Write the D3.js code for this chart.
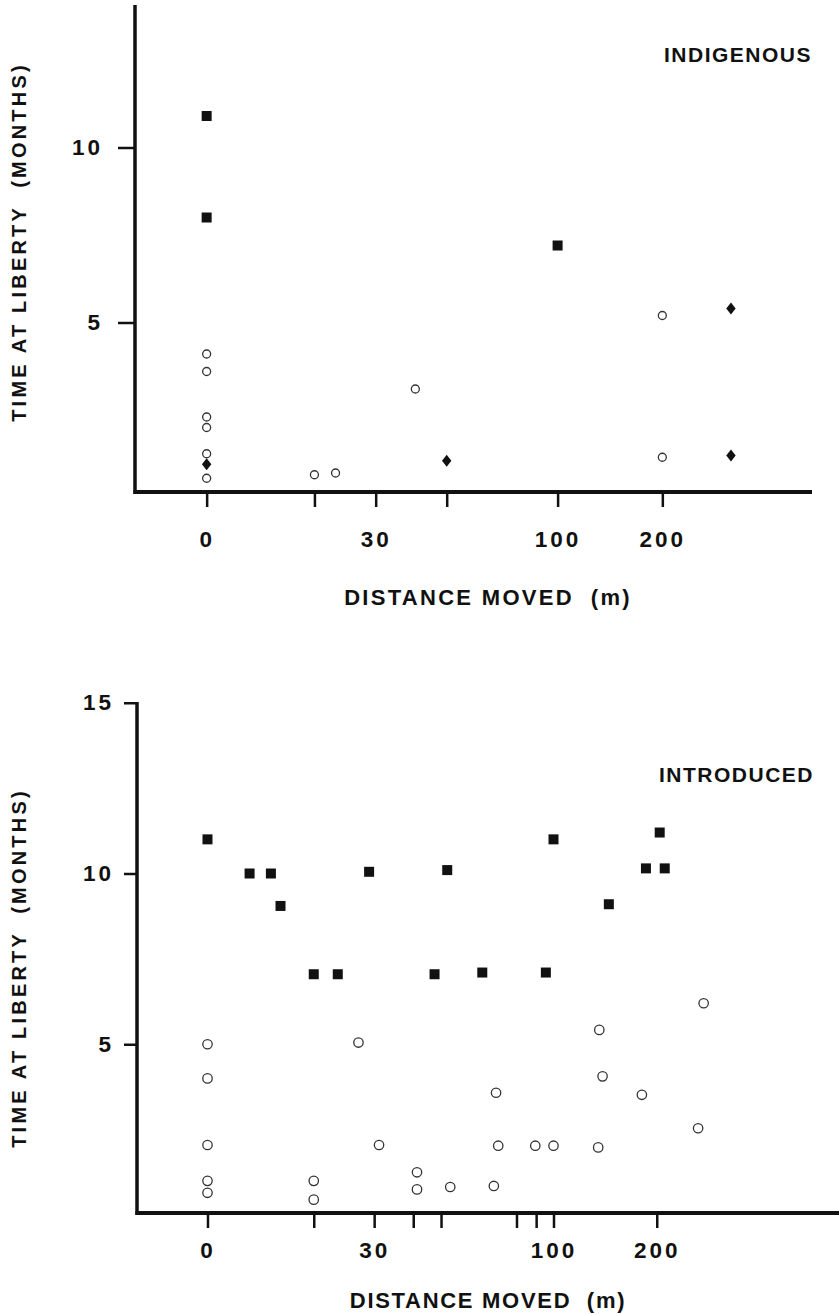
<!DOCTYPE html>
<html>
<head>
<meta charset="utf-8">
<script src="https://cdn.jsdelivr.net/npm/d3@7"></script>
<style>
  body { margin: 0; background: #fff; }
  svg { display: block; background: #fff; font-family: "Liberation Sans", Arial, Helvetica, sans-serif; font-weight: bold; }
</style>
</head>
<body>
<svg width="839" height="1314"></svg>
<script>
// a distance of 0 can't sit on a log axis, it is drawn where ~10 m would be
const ZERO_AT = 9.8;

// INDIGENOUS panel
const indSquareDist = [0, 0, 100];
const indSquareMonths = [10.9, 8.0, 7.2];
const indCircleDist = [0, 0, 0, 0, 0, 0, 20, 23, 39, 200, 200];
const indCircleMonths = [4.1, 3.6, 2.3, 2.0, 1.25, 0.55, 0.65, 0.7, 3.1, 5.2, 1.15];
const indDiamondDist = [0, 48, 315, 315];
const indDiamondMonths = [0.95, 1.05, 5.4, 1.2];
const indXTicks = [0, 20, 30, 48, 100, 200];
const indYTicks = [5, 10];

// INTRODUCED panel
const intSquareDist = [0, 13, 15, 16, 20, 23.5, 29, 45, 49, 62, 95, 100, 145, 186, 204, 211];
const intSquareMonths = [11, 10, 10, 9.05, 7.05, 7.05, 10.05, 7.05, 10.1, 7.1, 7.1, 11, 9.1, 10.15, 11.2, 10.15];
const intCircleDist = [0, 0, 0, 0, 0, 20, 20, 27, 31, 40, 40, 50, 67, 68, 69, 88.5, 100, 135, 136, 139, 181, 264, 274];
const intCircleMonths = [5.0, 4.0, 2.05, 1.0, 0.65, 1.0, 0.45, 5.05, 2.05, 1.25, 0.75, 0.82, 0.85, 3.58, 2.03, 2.03, 2.03, 1.98, 5.42, 4.06, 3.52, 2.54, 6.2];
const intXTicks = [0, 20, 30, 39, 47, 78, 89, 100, 200];
const intYTicks = [5, 10, 15];

const xLabels = [0, 30, 100, 200];

const svg = d3.select("svg");
const pos = d => (d === 0 ? ZERO_AT : d);
const diamond = "M0,-6L4.7,0L0,6L-4.7,0Z";

function drawPanel(p) {
  const x = d3.scaleLog().domain([10, 100]).range([p.x10, p.x100]);
  const y = d3.scaleLinear().domain([0, 10]).range([p.y0, p.y10]);
  const g = svg.append("g");

  // axes
  const xAxisG = g.append("g").attr("transform", `translate(0,${p.axisY})`);
  xAxisG.call(
    d3.axisBottom(x)
      .tickValues(p.xTicks.map(pos))
      .tickSize(15)
      .tickFormat((v, i) => (xLabels.includes(p.xTicks[i]) ? p.xTicks[i] : ""))
  );
  xAxisG.select(".domain").remove();
  xAxisG.selectAll(".tick line").attr("stroke", "#111").attr("stroke-width", 2.5);
  xAxisG.selectAll(".tick text")
    .attr("y", p.xLabelY)
    .attr("dy", 0)
    .attr("fill", "#111")
    .style("font-size", "22.5px")
    .style("letter-spacing", "3px");

  const yAxisG = g.append("g").attr("transform", `translate(${p.axisX},0)`);
  yAxisG.call(
    d3.axisLeft(y)
      .tickValues(p.yTicks)
      .tickSize(p.yTickLen)
      .tickPadding(p.yPad)
  );
  yAxisG.select(".domain").remove();
  yAxisG.selectAll(".tick line").attr("stroke", "#111").attr("stroke-width", 2.5);
  yAxisG.selectAll(".tick text")
    .attr("fill", "#111")
    .style("font-size", "22.5px")
    .style("letter-spacing", "3px");

  g.append("line")
    .attr("x1", p.axisX).attr("x2", p.axisX)
    .attr("y1", p.axisTop).attr("y2", p.axisY + 2)
    .attr("stroke", "#111").attr("stroke-width", 3.5);
  g.append("line")
    .attr("x1", p.axisX - 1.5).attr("x2", p.axisRight)
    .attr("y1", p.axisY).attr("y2", p.axisY)
    .attr("stroke", "#111").attr("stroke-width", 4);

  // titles
  g.append("text")
    .attr("x", p.titleX).attr("y", p.titleY)
    .attr("text-anchor", "end")
    .attr("fill", "#111")
    .style("font-size", "21px")
    .style("letter-spacing", "1.5px")
    .text(p.title);

  g.append("text")
    .attr("x", 488).attr("y", p.xTitleY)
    .attr("text-anchor", "middle")
    .attr("fill", "#111")
    .style("font-size", "22px")
    .style("letter-spacing", p.xTitleSpacing)
    .style("white-space", "pre")
    .text("DISTANCE MOVED  (m)");

  g.append("text")
    .attr("transform", `translate(19,${p.yTitleY}) rotate(-90)`)
    .attr("dy", "0.36em")
    .attr("text-anchor", "middle")
    .attr("fill", "#111")
    .style("font-size", "20px")
    .style("letter-spacing", "3.2px")
    .style("white-space", "pre")
    .text("TIME AT LIBERTY  (MONTHS)");

  // points
  const zipped = (a, b) => a.map((d, i) => ({ dist: d, months: b[i] }));

  g.selectAll("circle.pt")
    .data(zipped(p.circleDist, p.circleMonths))
    .enter()
    .append("circle")
    .attr("class", "pt")
    .attr("cx", d => x(pos(d.dist)))
    .attr("cy", d => y(d.months))
    .attr("r", p.r)
    .attr("fill", "none")
    .attr("stroke", "#333")
    .attr("stroke-width", 1.3);

  g.selectAll("rect.pt")
    .data(zipped(p.squareDist, p.squareMonths))
    .enter()
    .append("rect")
    .attr("class", "pt")
    .attr("x", d => x(pos(d.dist)) - 5)
    .attr("y", d => y(d.months) - 5)
    .attr("width", 10)
    .attr("height", 10)
    .attr("fill", "#111");

  g.selectAll("path.pt")
    .data(zipped(p.diamondDist, p.diamondMonths))
    .enter()
    .append("path")
    .attr("class", "pt")
    .attr("d", diamond)
    .attr("transform", d => `translate(${x(pos(d.dist))},${y(d.months)})`)
    .attr("fill", "#111");
}

drawPanel({
  title: "INDIGENOUS",
  squareDist: indSquareDist, squareMonths: indSquareMonths,
  circleDist: indCircleDist, circleMonths: indCircleMonths,
  diamondDist: indDiamondDist, diamondMonths: indDiamondMonths,
  xTicks: indXTicks, yTicks: indYTicks,
  x10: 209.7, x100: 557.6, y0: 497.5, y10: 147.5,
  axisX: 135, axisY: 492, axisTop: 5, axisRight: 812,
  yTickLen: 17, yPad: 15, xLabelY: 55, r: 4,
  titleX: 812, titleY: 62, xTitleY: 605, xTitleSpacing: "2.3px", yTitleY: 242
});

drawPanel({
  title: "INTRODUCED",
  squareDist: intSquareDist, squareMonths: intSquareMonths,
  circleDist: intCircleDist, circleMonths: intCircleMonths,
  diamondDist: [], diamondMonths: [],
  xTicks: intXTicks, yTicks: intYTicks,
  x10: 210.5, x100: 553.5, y0: 1215, y10: 873.5,
  axisX: 137, axisY: 1213, axisTop: 702, axisRight: 839,
  yTickLen: 13, yPad: 10, xLabelY: 45, r: 4.7,
  titleX: 814, titleY: 782, xTitleY: 1308, xTitleSpacing: "1.7px", yTitleY: 968
});
</script>
</body>
</html>
